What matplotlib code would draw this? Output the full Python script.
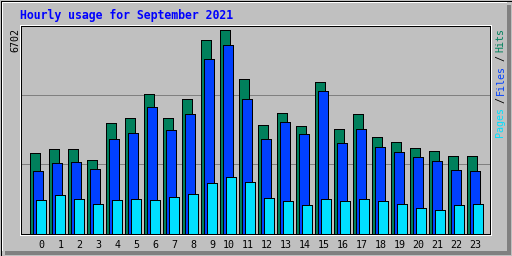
import matplotlib
matplotlib.use("Agg")
import matplotlib.pyplot as plt
from matplotlib.patches import Rectangle
import numpy as np

hours = np.arange(24)
hour_labels = [str(h) for h in hours]
hits = [2655, 2787, 2787, 2425, 3642, 3807, 4596, 3807, 4432, 6373, 6702, 5090,
        3576, 3971, 3543, 5001, 3445, 3938, 3181, 3017, 2820, 2721, 2556, 2556]
files = [2063, 2326, 2359, 2129, 3116, 3313, 4168, 3412, 3938, 5748, 6218, 4432,
         3116, 3675, 3280, 4695, 2984, 3445, 2852, 2688, 2523, 2392, 2096, 2063]
pages = [1109, 1273, 1142, 977, 1109, 1142, 1109, 1207, 1306, 1668, 1865, 1701,
         1175, 1076, 944, 1142, 1076, 1142, 1076, 977, 846, 780, 944, 977]
title = "Hourly usage for September 2021"
max_label = "6702"

BG = "#C0C0C0"
HIT = "#00805C"
FILE = "#0040FF"
PAGE = "#00E0FF"
MONO = "DejaVu Sans Mono"
PX = 0.72  # one pixel in points at dpi 100

fig = plt.figure(figsize=(5.12, 2.56), dpi=100, facecolor=BG)

# frame / bevel drawn in pixel space
bg = fig.add_axes([0, 0, 1, 1])
bg.set_xlim(0, 512)
bg.set_ylim(256, 0)
bg.axis("off")
bg.add_patch(Rectangle((507, 5), 4, 250, color="#808080", lw=0, antialiased=False))
bg.add_patch(Rectangle((5, 251), 506, 4, color="#808080", lw=0, antialiased=False))
bg.plot([0.5, 511.5, 511.5, 0.5, 0.5], [0.5, 0.5, 255.5, 255.5, 0.5],
        color="black", lw=PX, antialiased=False)
bg.plot([1.5, 506], [1.5, 1.5], color="white", lw=PX, antialiased=False)
bg.plot([1.5, 1.5], [1.5, 250], color="white", lw=PX, antialiased=False)
bg.plot([19.5, 490.5, 490.5, 19.5, 19.5], [24.5, 24.5, 234.5, 234.5, 24.5],
        color="white", lw=PX, antialiased=False)

# plot area
ax = fig.add_axes([20.5 / 512, 1 - 233.5 / 256, 469 / 512, 208 / 256])
ax.set_facecolor(BG)
ax.set_xlim(-0.489, 24.195)
ymax = 6702 * 208 / 203.7
ax.set_ylim(0, ymax)
for s in ax.spines.values():
    s.set_color("black")
    s.set_linewidth(PX)
ax.set_xticks([])
ax.set_yticks([])

for g in (ymax / 3, 2 * ymax / 3):
    ax.axhline(g, color="#808080", lw=PX, zorder=0.5, antialiased=False)

w = 10.5 / 19
for off, vals, col, z in ((0, hits, HIT, 2), (3, files, FILE, 3), (6, pages, PAGE, 4)):
    ax.bar(hours + off / 19, vals, width=w, align="edge", color=col,
           edgecolor="black", linewidth=PX, zorder=z, antialiased=False)

for h, lab in zip(hours, hour_labels):
    dx = 11.5 if len(lab) == 1 else 8.5
    ax.text(h + dx / 19, -11.2 / 208, lab, transform=ax.get_xaxis_transform(),
            ha="center", va="center", fontsize=7.2, family=MONO, color="black")

fig.text(20 / 512, 1 - 15.5 / 256, title, ha="left", va="center",
         fontsize=8.3, family=MONO, weight="bold", color="#0000FF")
fig.text(15.5 / 512, 1 - 28 / 256, max_label, rotation=90, ha="center", va="top",
         fontsize=7.2, family=MONO, color="black")

for txt, top, col in (("Hits", 28, HIT), ("/", 55, "black"), ("Files", 65, FILE),
                      ("/", 97, "black"), ("Pages", 107, PAGE)):
    fig.text(500.5 / 512, 1 - top / 256, txt, rotation=90, ha="center", va="top",
             fontsize=7.2, family=MONO, color=col)

fig.savefig("out.png", dpi=100, facecolor=BG)
